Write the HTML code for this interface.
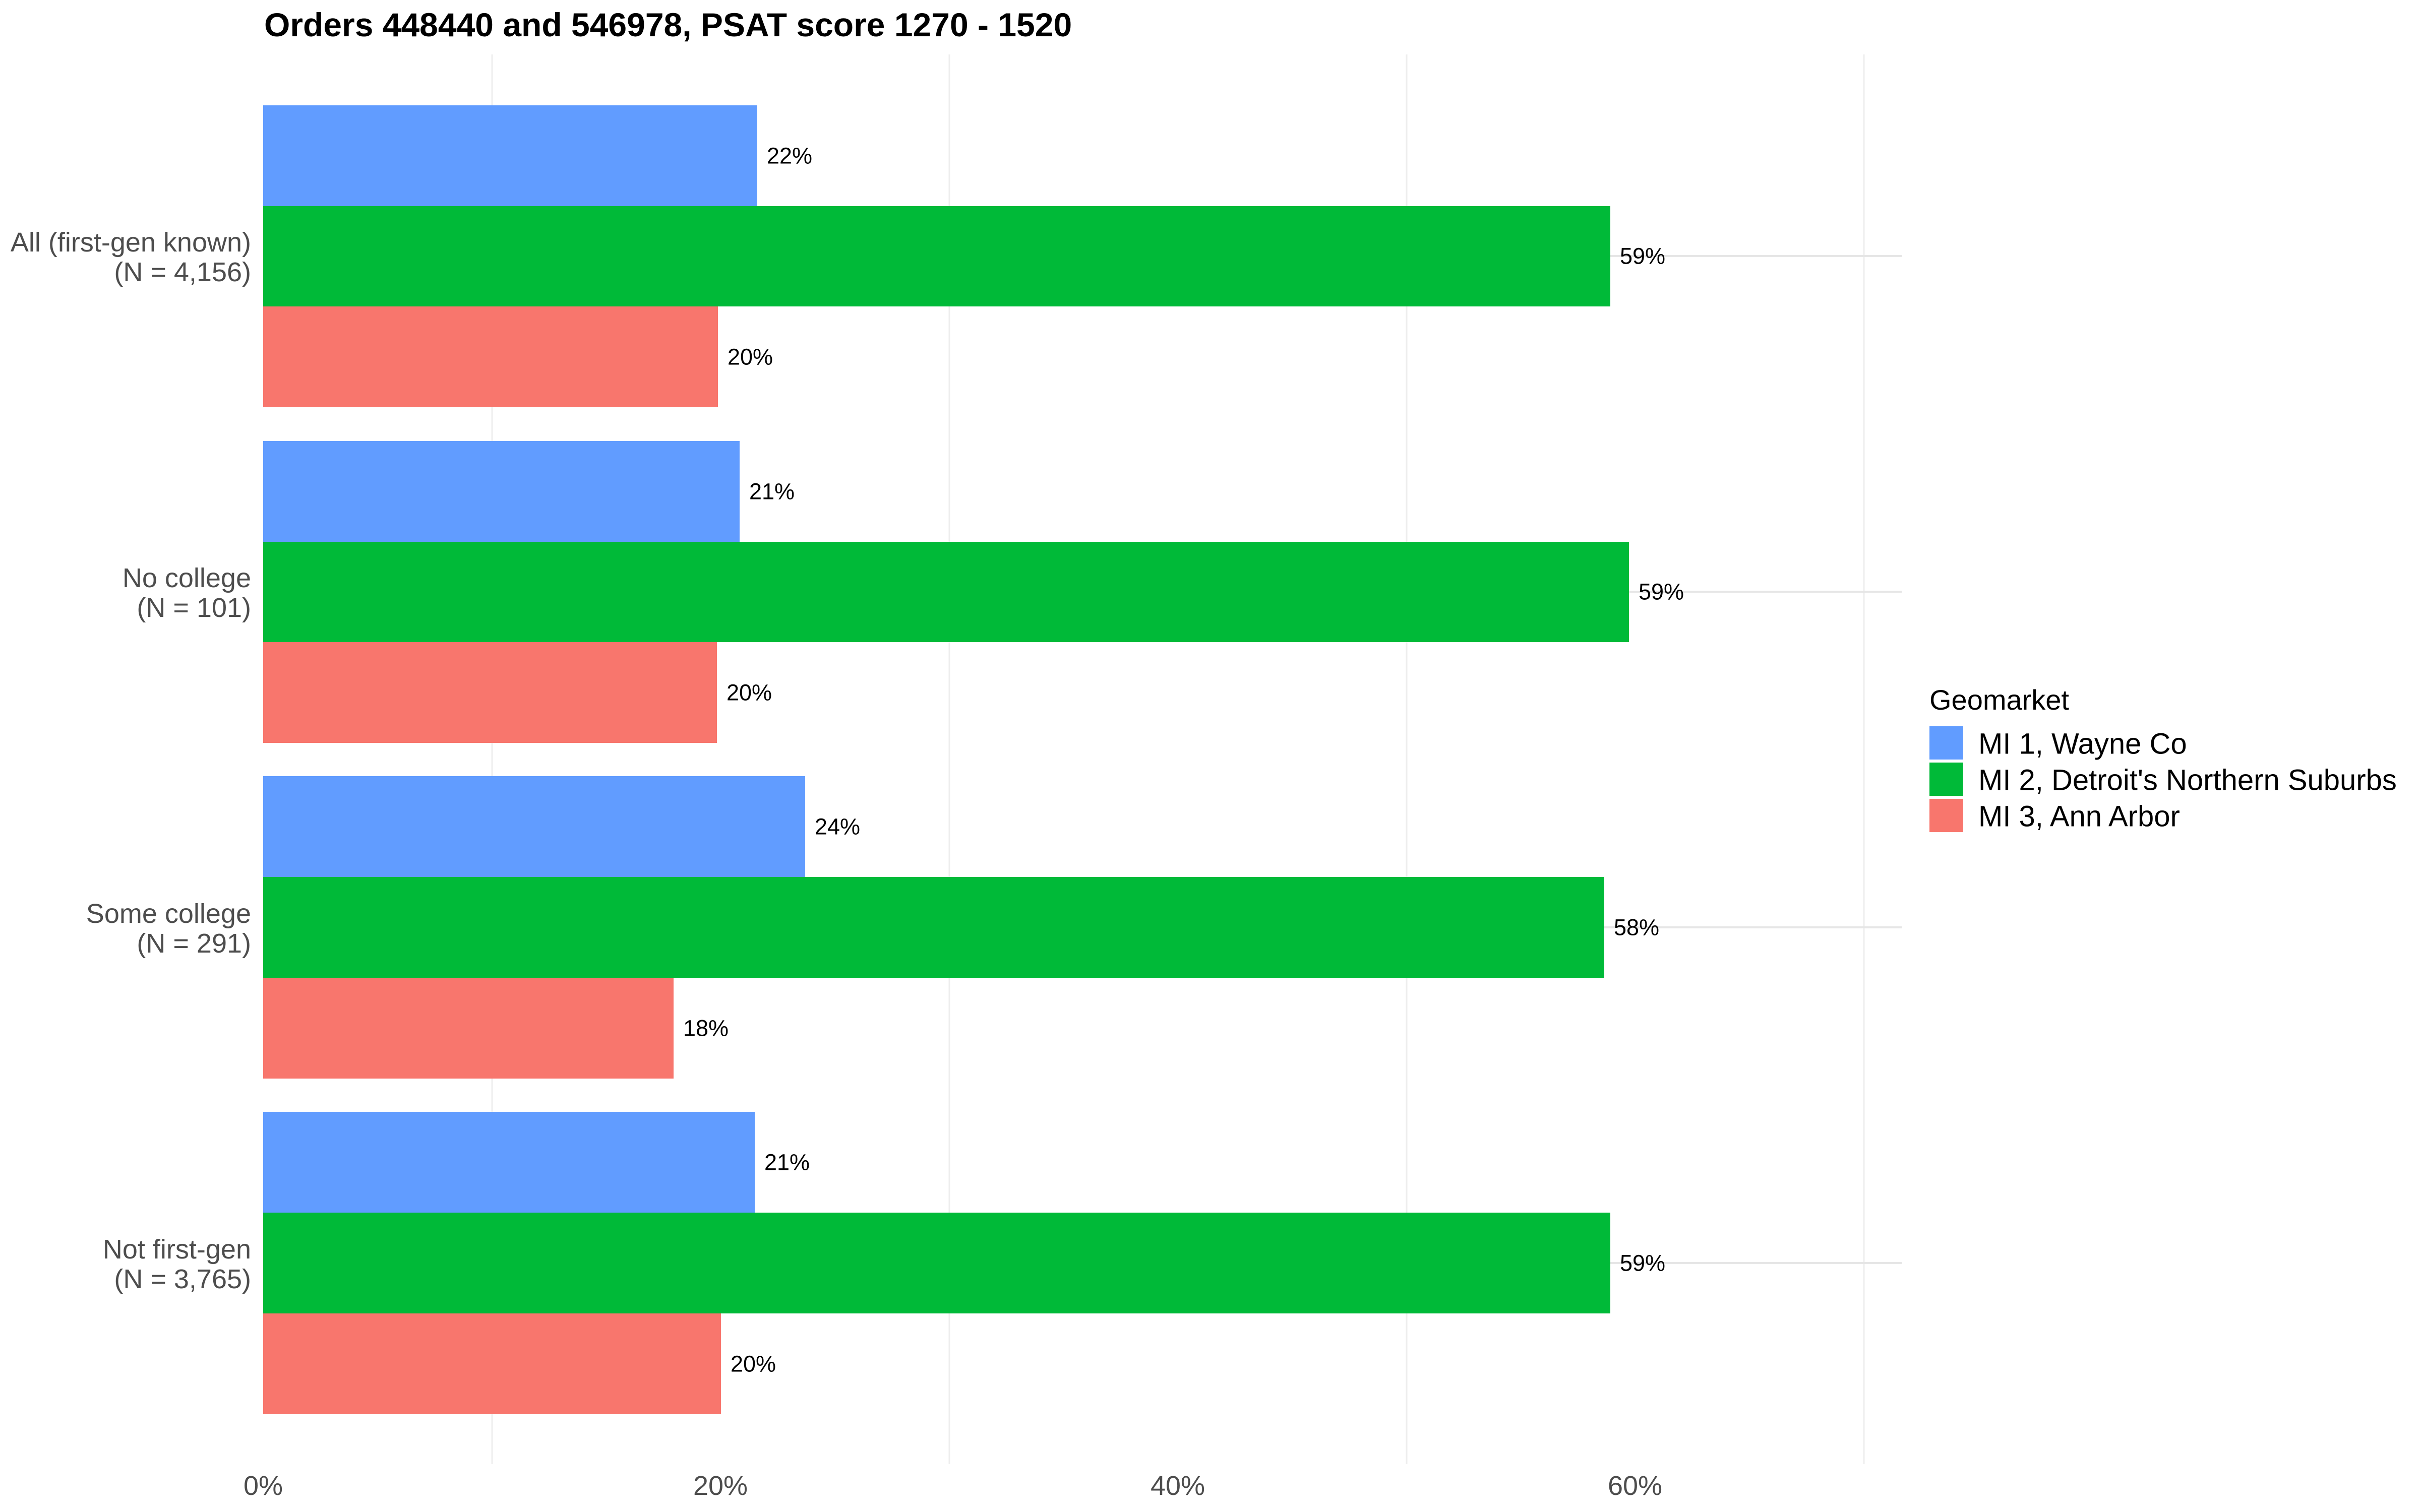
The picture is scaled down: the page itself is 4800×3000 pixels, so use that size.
<!DOCTYPE html>
<html><head><meta charset="utf-8"><style>html,body{margin:0;padding:0;background:#fff}svg{display:block}</style></head>
<body>
<svg width="4800" height="3000" viewBox="0 0 4800 3000" xmlns="http://www.w3.org/2000/svg" font-family="Liberation Sans, sans-serif">
<rect width="4800" height="3000" fill="#fff"/>
<g stroke="#eeeeee" stroke-width="3">
<line x1="976" y1="108" x2="976" y2="2905"/>
<line x1="1883" y1="108" x2="1883" y2="2905"/>
<line x1="2790" y1="108" x2="2790" y2="2905"/>
<line x1="3697" y1="108" x2="3697" y2="2905"/>
</g>
<g stroke="#e6e6e6" stroke-width="4">
<line x1="522" y1="508" x2="3772" y2="508"/>
<line x1="522" y1="1174" x2="3772" y2="1174"/>
<line x1="522" y1="1840" x2="3772" y2="1840"/>
<line x1="522" y1="2506" x2="3772" y2="2506"/>
</g>
<!-- group 1 -->
<rect x="522" y="209" width="980" height="200" fill="#619cff"/>
<rect x="522" y="409" width="2672" height="199" fill="#00ba38"/>
<rect x="522" y="608" width="902" height="200" fill="#f8766d"/>
<!-- group 2 -->
<rect x="522" y="875" width="945" height="200" fill="#619cff"/>
<rect x="522" y="1075" width="2709" height="199" fill="#00ba38"/>
<rect x="522" y="1274" width="900" height="200" fill="#f8766d"/>
<!-- group 3 -->
<rect x="522" y="1540" width="1075" height="200" fill="#619cff"/>
<rect x="522" y="1740" width="2660" height="200" fill="#00ba38"/>
<rect x="522" y="1940" width="814" height="200" fill="#f8766d"/>
<!-- group 4 -->
<rect x="522" y="2206" width="975" height="200" fill="#619cff"/>
<rect x="522" y="2406" width="2672" height="200" fill="#00ba38"/>
<rect x="522" y="2606" width="908" height="200" fill="#f8766d"/>
<g font-size="45" fill="#000" dominant-baseline="central">
<text x="1521" y="309">22%</text>
<text x="3213" y="508">59%</text>
<text x="1443" y="708">20%</text>
<text x="1486" y="975">21%</text>
<text x="3250" y="1174">59%</text>
<text x="1441" y="1374">20%</text>
<text x="1616" y="1640">24%</text>
<text x="3201" y="1840">58%</text>
<text x="1355" y="2040">18%</text>
<text x="1516" y="2306">21%</text>
<text x="3213" y="2506">59%</text>
<text x="1449" y="2706">20%</text>
</g>
<g font-size="54" fill="#4d4d4d" text-anchor="end">
<text x="498" y="499">All (first-gen known)</text>
<text x="498" y="558">(N = 4,156)</text>
<text x="498" y="1165">No college</text>
<text x="498" y="1224">(N = 101)</text>
<text x="498" y="1831">Some college</text>
<text x="498" y="1890">(N = 291)</text>
<text x="498" y="2497">Not first-gen</text>
<text x="498" y="2556">(N = 3,765)</text>
</g>
<g font-size="54" fill="#4d4d4d" text-anchor="middle">
<text x="522" y="2966">0%</text>
<text x="1429" y="2966">20%</text>
<text x="2336" y="2966">40%</text>
<text x="3243" y="2966">60%</text>
</g>
<text x="524" y="72" font-size="66" font-weight="bold" fill="#000">Orders 448440 and 546978, PSAT score 1270 - 1520</text>
<text x="3827" y="1408" font-size="56" fill="#000">Geomarket</text>
<rect x="3827" y="1441" width="67" height="66" fill="#619cff"/>
<rect x="3827" y="1513" width="67" height="66" fill="#00ba38"/>
<rect x="3827" y="1585" width="67" height="66" fill="#f8766d"/>
<g font-size="58" fill="#000" dominant-baseline="central">
<text x="3924" y="1476">MI 1, Wayne Co</text>
<text x="3924" y="1548">MI 2, Detroit's Northern Suburbs</text>
<text x="3924" y="1620">MI 3, Ann Arbor</text>
</g>
</svg>
</body></html>
